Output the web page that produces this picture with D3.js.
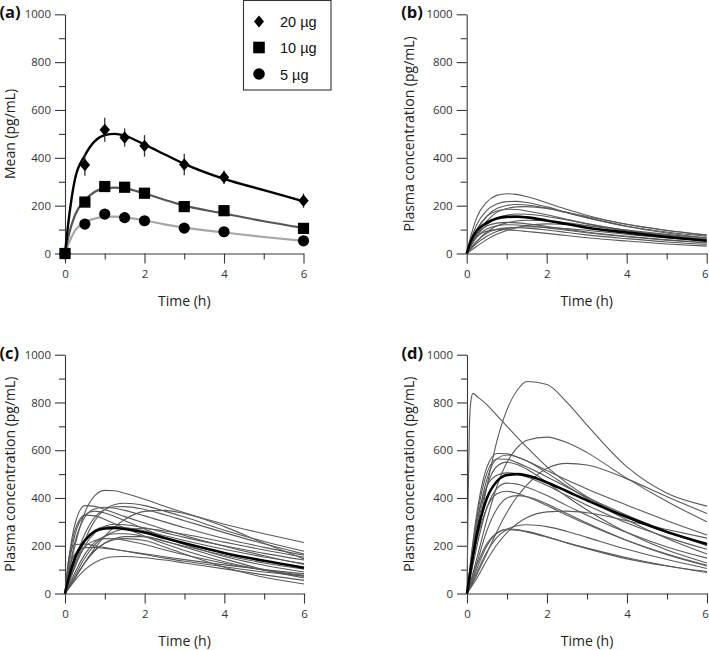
<!DOCTYPE html>
<html><head><meta charset="utf-8">
<script src="https://cdn.jsdelivr.net/npm/d3@7"></script>
<style>
body{margin:0;background:#fff}
svg{display:block}
text{font-family:"Open Sans",sans-serif}
</style>
</head><body>
<svg id="chart" width="709" height="650"></svg>
<script>
// ---------- DATA ----------
const yMajor = [0, 200, 400, 600, 800, 1000];
const yMinor = [100, 300, 500, 700, 900];
const xMajor = [0, 2, 4, 6];
const xMinor = [1, 3, 5];

// panel (a): observed means (pg/mL) and SDs
const doseLabels = ["20 \u00B5g", "10 \u00B5g", "5 \u00B5g"];
const sampleTimes = [0, 0.5, 1, 1.5, 2, 3, 4, 6];
const mean20 = [0, 370, 517, 485, 450, 372, 319, 221];
const sd20   = [0, 45, 50, 38, 45, 45, 28, 30];
const mean10 = [0, 215, 280, 277, 252, 196, 179, 105];
const mean5  = [0, 123, 165, 150, 137, 106, 91, 53];

// model curves on a common time grid
const timeGrid = [0, 0.1, 0.25, 0.5, 0.75, 1, 1.25, 1.5, 2, 2.5, 3, 4, 5, 6];
const fit20 = [0, 150, 310, 410, 470, 495, 500, 493, 455, 415, 375, 312, 265, 218];
const fit10 = [0, 80, 160, 222, 258, 272, 275, 272, 251, 225, 200, 167, 135, 107];
const fit5  = [0, 45, 95, 130, 146, 153, 154, 151, 138, 122, 108, 88, 69, 53];

// panel (b): 5 µg individual predicted profiles
const bMean = [0, 50, 95, 128, 146, 153, 154, 151, 138, 123, 108, 88, 69, 53];
const bIndividuals = [
  [0, 70, 150, 215, 243, 250, 247, 238, 212, 185, 160, 122, 97, 78],
  [0, 55, 120, 180, 207, 217, 218, 213, 195, 172, 150, 115, 90, 72],
  [0, 40, 95, 155, 188, 201, 205, 203, 190, 170, 150, 113, 86, 66],
  [0, 32, 78, 135, 172, 188, 195, 196, 188, 172, 155, 122, 96, 76],
  [0, 45, 100, 155, 178, 185, 184, 178, 162, 143, 125, 97, 76, 60],
  [0, 40, 82, 115, 127, 130, 128, 124, 113, 101, 90, 72, 57, 45],
  [0, 30, 68, 102, 116, 120, 119, 116, 107, 97, 87, 70, 56, 45],
  [0, 12, 30, 58, 80, 96, 108, 117, 124, 122, 116, 98, 80, 64],
  [0, 18, 42, 72, 92, 104, 110, 112, 110, 104, 97, 80, 65, 52],
  [0, 35, 70, 93, 100, 99, 96, 92, 84, 75, 66, 52, 40, 31],
  [0, 22, 52, 85, 101, 107, 108, 106, 98, 88, 78, 62, 48, 38],
  [0, 30, 72, 120, 148, 160, 165, 164, 155, 140, 124, 96, 74, 56],
  [0, 20, 50, 90, 115, 128, 136, 139, 137, 128, 117, 94, 74, 58]
];

// panel (c): 10 µg individual predicted profiles
const cMean = [0, 70, 150, 222, 260, 272, 274, 270, 255, 232, 210, 170, 137, 108];
const cIndividuals = [
  [0, 90, 200, 340, 410, 432, 430, 420, 395, 365, 338, 290, 250, 213],
  [0, 50, 120, 225, 305, 352, 373, 378, 368, 345, 320, 265, 218, 177],
  [0, 150, 290, 368, 365, 352, 337, 322, 295, 268, 243, 198, 158, 122],
  [0, 95, 215, 320, 355, 361, 357, 348, 325, 300, 275, 230, 193, 160],
  [0, 120, 245, 330, 345, 337, 322, 305, 270, 235, 205, 155, 118, 90],
  [0, 25, 65, 130, 190, 240, 280, 310, 344, 348, 335, 280, 210, 145],
  [0, 45, 110, 200, 255, 282, 290, 288, 275, 255, 235, 200, 168, 140],
  [0, 140, 265, 328, 325, 310, 292, 275, 240, 208, 180, 133, 98, 72],
  [0, 35, 88, 165, 215, 240, 250, 250, 238, 218, 198, 160, 128, 102],
  [0, 25, 65, 130, 180, 212, 230, 238, 238, 220, 195, 145, 100, 65],
  [0, 55, 125, 195, 222, 230, 229, 223, 205, 183, 162, 127, 98, 76],
  [0, 150, 205, 207, 200, 192, 185, 178, 163, 148, 135, 112, 90, 72],
  [0, 100, 165, 192, 193, 189, 184, 178, 166, 154, 142, 120, 100, 82],
  [0, 22, 55, 100, 130, 148, 154, 155, 150, 140, 128, 103, 78, 55],
  [0, 25, 65, 130, 180, 210, 226, 230, 222, 195, 165, 110, 68, 40],
  [0, 60, 140, 225, 265, 279, 280, 276, 262, 242, 222, 185, 153, 125],
  [0, 30, 75, 150, 205, 240, 260, 270, 272, 262, 248, 215, 182, 152],
  [0, 60, 140, 250, 320, 352, 363, 364, 352, 330, 305, 255, 208, 165]
];

// panel (d): 20 µg individual predicted profiles
const dMean = [0, 110, 250, 400, 470, 496, 500, 494, 465, 428, 390, 320, 258, 207];
const dIndividuals = [
  [0, 90, 230, 450, 640, 770, 850, 888, 875, 800, 705, 530, 420, 366],
  [0, 55, 150, 310, 450, 550, 610, 642, 655, 632, 590, 482, 385, 300],
  [0, 30, 80, 170, 260, 340, 405, 455, 525, 545, 538, 480, 405, 335],
  [0, 150, 340, 530, 586, 585, 572, 555, 515, 475, 438, 370, 305, 245],
  [0, 120, 290, 480, 565, 580, 572, 555, 505, 450, 398, 308, 230, 165],
  [0, 140, 320, 505, 563, 562, 548, 530, 488, 445, 403, 328, 260, 200],
  [0, 110, 270, 450, 533, 550, 540, 520, 465, 405, 350, 255, 182, 128],
  [0, 80, 200, 360, 440, 462, 458, 445, 410, 368, 328, 255, 195, 148],
  [0, 130, 300, 450, 495, 505, 500, 488, 452, 410, 370, 295, 235, 185],
  [0, 95, 225, 360, 418, 428, 420, 405, 368, 328, 290, 222, 165, 118],
  [0, 50, 130, 265, 355, 400, 410, 405, 375, 335, 295, 222, 162, 115],
  [0, 25, 65, 140, 205, 255, 292, 318, 342, 345, 338, 305, 268, 232],
  [0, 35, 90, 175, 235, 268, 284, 288, 280, 260, 235, 185, 142, 105],
  [0, 40, 105, 200, 252, 267, 265, 257, 236, 212, 190, 150, 116, 88],
  [0, 50, 120, 210, 255, 270, 268, 260, 238, 212, 188, 145, 115, 92]
];
// one very fast absorber in panel (d), sampled more densely at the start
const spikeTimes  = [0, 0.03, 0.06, 0.1, 0.15, 0.25, 0.5, 0.75, 1, 1.25, 1.5, 2, 2.5, 3, 4, 5, 6];
const spikeValues = [0, 400, 700, 810, 838, 825, 790, 745, 700, 655, 612, 530, 462, 405, 318, 255, 205];

// ---------- DRAWING ----------
const svg = d3.select("#chart");
const AXIS = "#383838";

const panels = [
  {id: "(a)", left: 65,    top: 14.3,  w: 238.5, h: 239.2, ytitle: "Mean (pg/mL)"},
  {id: "(b)", left: 466.7, top: 14.3,  w: 240,   h: 239.2, ytitle: "Plasma concentration (pg/mL)"},
  {id: "(c)", left: 65,    top: 354.7, w: 239,   h: 238.8, ytitle: "Plasma concentration (pg/mL)"},
  {id: "(d)", left: 467,   top: 354.7, w: 240,   h: 238.8, ytitle: "Plasma concentration (pg/mL)"}
];

function setupPanel(p) {
  const g = svg.append("g").attr("transform", `translate(${p.left},${p.top})`);
  const x = d3.scaleLinear().domain([0, 6]).range([0, p.w]);
  const y = d3.scaleLinear().domain([0, 1000]).range([p.h, 0]);

  g.append("g")
    .call(d3.axisLeft(y).tickValues(yMajor).tickSize(10).tickSizeOuter(0).tickPadding(4).tickFormat(d3.format("d")));
  g.append("g").call(d3.axisLeft(y).tickValues(yMinor).tickSize(6).tickSizeOuter(0).tickFormat(""))
    .select(".domain").remove();
  const xg = g.append("g").attr("transform", `translate(0,${p.h})`)
    .call(d3.axisBottom(x).tickValues(xMajor).tickSize(10).tickSizeOuter(0).tickPadding(6).tickFormat(d3.format("d")));
  g.append("g").attr("transform", `translate(0,${p.h})`)
    .call(d3.axisBottom(x).tickValues(xMinor).tickSize(6).tickSizeOuter(0).tickFormat(""))
    .select(".domain").remove();

  g.selectAll(".domain, .tick line").attr("stroke", AXIS).attr("stroke-width", 1.1);
  g.selectAll(".tick text").attr("fill", "#333").style("font-size", "11.5px")
    .style("font-family", '"Open Sans", sans-serif');

  const isLeft = p.left < 200;
  // keep the last x label inside the page on the right-hand panels
  if (!isLeft) {
    xg.selectAll(".tick").filter(d => d === 6).select("text").attr("dx", "-2");
  }
  svg.append("text")
    .attr("transform", `translate(${isLeft ? 14.5 : p.left - 53},${p.top + p.h / 2}) rotate(-90)`)
    .attr("text-anchor", "middle").attr("fill", "#222").style("font-size", "14px")
    .text(p.ytitle);
  svg.append("text")
    .attr("x", p.left + p.w / 2).attr("y", p.top + p.h + 52.5)
    .attr("text-anchor", "middle").attr("fill", "#222").style("font-size", "14px")
    .text("Time (h)");
  svg.append("text")
    .attr("x", p.left - 65.5).attr("y", p.top + 4)
    .attr("fill", "#111").style("font-size", "16.5px").style("font-weight", "bold")
    .text(p.id);
  return {g, x, y};
}

const lineGen = (x, y, times) => d3.line()
  .x((d, i) => x(times[i])).y(d => y(d)).curve(d3.curveMonotoneX);

// ---- Panel (a)
{
  const {g, x, y} = setupPanel(panels[0]);
  const L = lineGen(x, y, timeGrid);
  g.append("path").attr("d", L(fit5)).attr("fill", "none").attr("stroke", "#a6a6a6").attr("stroke-width", 2.2);
  g.append("path").attr("d", L(fit10)).attr("fill", "none").attr("stroke", "#555").attr("stroke-width", 2.2);
  g.append("path").attr("d", L(fit20)).attr("fill", "none").attr("stroke", "#000").attr("stroke-width", 2.4);

  mean20.forEach((m, i) => {
    if (sd20[i] > 0) {
      g.append("line")
        .attr("x1", x(sampleTimes[i])).attr("x2", x(sampleTimes[i]))
        .attr("y1", y(m - sd20[i])).attr("y2", y(m + sd20[i]))
        .attr("stroke", "#333").attr("stroke-width", 1.3);
    }
  });

  g.selectAll(".c5").data(mean5).enter().append("circle")
    .attr("cx", (d, i) => x(sampleTimes[i])).attr("cy", d => y(d)).attr("r", 5.6).attr("fill", "#000");
  g.selectAll(".d20").data(mean20).enter().append("path")
    .attr("d", "M0,-6.2L5.2,0L0,6.2L-5.2,0Z")
    .attr("transform", (d, i) => `translate(${x(sampleTimes[i])},${y(d)})`).attr("fill", "#000");
  g.selectAll(".s10").data(mean10).enter().append("rect")
    .attr("x", (d, i) => x(sampleTimes[i]) - 5.6).attr("y", d => y(d) - 5.6)
    .attr("width", 11.2).attr("height", 11.2).attr("fill", "#000");

  // legend
  const lg = svg.append("g");
  lg.append("rect").attr("x", 243.5).attr("y", 0.5).attr("width", 87.5).attr("height", 89.5)
    .attr("fill", "#fff").attr("stroke", "#333").attr("stroke-width", 1.1);
  const ly = [21.5, 47.5, 74];
  lg.append("path").attr("d", "M0,-6L5,0L0,6L-5,0Z").attr("transform", `translate(259,${ly[0]})`).attr("fill", "#000");
  lg.append("rect").attr("x", 259 - 5.8).attr("y", ly[1] - 5.8).attr("width", 11.6).attr("height", 11.6).attr("fill", "#000");
  lg.append("circle").attr("cx", 259).attr("cy", ly[2]).attr("r", 5.8).attr("fill", "#000");
  doseLabels.forEach((t, i) => {
    lg.append("text").attr("x", 280).attr("y", ly[i] + 5.5)
      .style("font-family", '"Liberation Sans", Arial, sans-serif').style("font-size", "14.5px")
      .attr("fill", "#111").text(t);
  });
}

function drawSpaghetti(p, individuals, meanVals, extra) {
  const {g, x, y} = setupPanel(p);
  const L = lineGen(x, y, timeGrid);
  individuals.forEach(v => {
    g.append("path").attr("d", L(v)).attr("fill", "none").attr("stroke", "#5a5a5a").attr("stroke-width", 1.1);
  });
  if (extra) {
    const LS = lineGen(x, y, extra.times);
    g.append("path").attr("d", LS(extra.values)).attr("fill", "none").attr("stroke", "#5a5a5a").attr("stroke-width", 1.1);
  }
  g.append("path").attr("d", L(meanVals)).attr("fill", "none").attr("stroke", "#000").attr("stroke-width", 2.6);
}

drawSpaghetti(panels[1], bIndividuals, bMean);
drawSpaghetti(panels[2], cIndividuals, cMean);
drawSpaghetti(panels[3], dIndividuals, dMean, {times: spikeTimes, values: spikeValues});
</script>
</body></html>
